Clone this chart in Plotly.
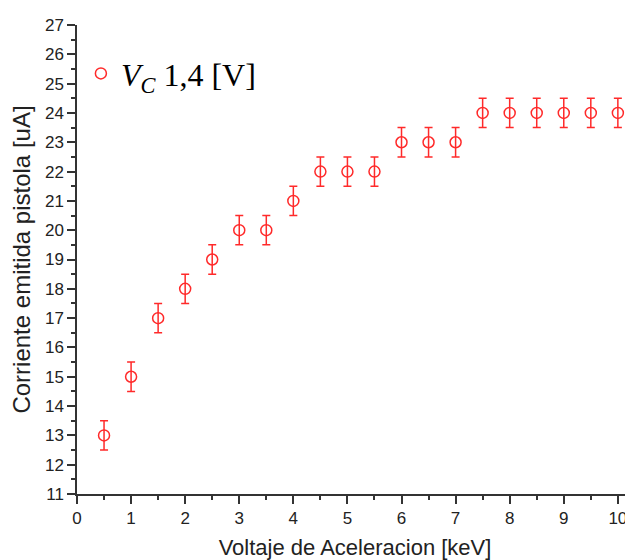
import plotly.graph_objects as go

# voltaje de aceleracion [keV] y corriente emitida [uA]
voltaje = [0.5, 1, 1.5, 2, 2.5, 3, 3.5, 4, 4.5, 5, 5.5, 6, 6.5, 7, 7.5, 8, 8.5, 9, 9.5, 10]
corriente = [13, 15, 17, 18, 19, 20, 20, 21, 22, 22, 22, 23, 23, 23, 24, 24, 24, 24, 24, 24]
error = [0.5] * len(voltaje)

rojo = "#ff2a2a"
fuente = "Liberation Sans, Arial"

fig = go.Figure(go.Scatter(
    x=voltaje, y=corriente, mode="markers",
    name="<i>V</i><sub><i>C</i></sub> 1,4 [V]",
    marker=dict(symbol="circle-open", size=11, color=rojo, line=dict(width=1.5, color=rojo)),
    error_y=dict(type="data", array=error, color=rojo, thickness=1.5, width=4),
))

ejes = dict(
    showgrid=False, zeroline=False, showline=True, linecolor="#333", linewidth=1.5,
    ticks="outside", ticklen=8, tickcolor="#333", tickwidth=1.5,
    tickfont=dict(family=fuente, size=17, color="#222"),
    minor=dict(ticks="outside", ticklen=4, tickcolor="#333", tickwidth=1.5),
)

fig.update_xaxes(range=[0, 10.28], dtick=1, minor_dtick=0.5,
                 title=dict(text="Voltaje de Aceleracion [keV]", standoff=12,
                            font=dict(family=fuente, size=22, color="#222")),
                 **ejes)
fig.update_yaxes(range=[11, 27], dtick=1, minor_dtick=0.5,
                 title=dict(text="Corriente emitida pistola [uA]", standoff=8,
                            font=dict(family=fuente, size=24, color="#222")),
                 **ejes)

# la pagina agrega ~8px de margen, se compensa aqui
fig.update_layout(
    width=625, height=552,
    margin=dict(l=69, r=0, t=17, b=66, autoexpand=False),
    plot_bgcolor="white", paper_bgcolor="white",
    showlegend=True,
    legend=dict(x=0.007, y=0.955, xanchor="left", yanchor="top",
                bgcolor="rgba(0,0,0,0)",
                font=dict(family="Liberation Serif, Times New Roman", size=32, color="black")),
)

fig.write_html("out.html")
